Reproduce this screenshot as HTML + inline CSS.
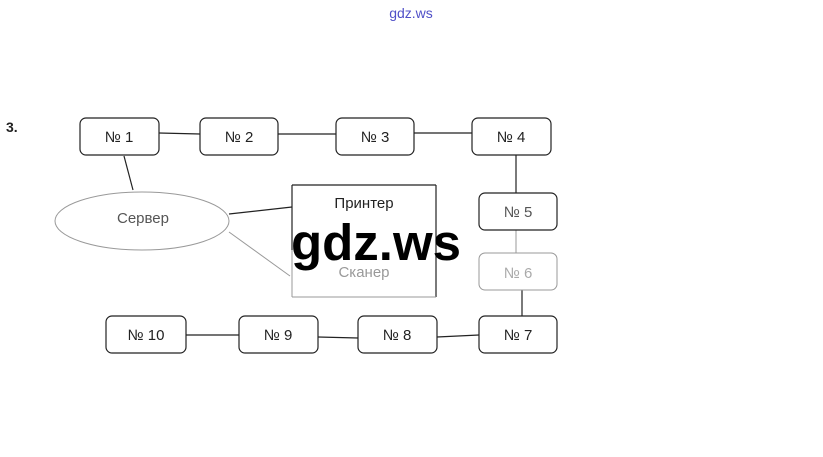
<!DOCTYPE html>
<html><head><meta charset="utf-8"><style>
html,body{margin:0;padding:0;background:#fff;width:823px;height:457px;overflow:hidden}
text{font-family:"Liberation Sans",sans-serif}
</style></head><body>
<svg width="823" height="457" xmlns="http://www.w3.org/2000/svg">
<text x="411" y="18" font-size="14" fill="#5050c8" text-anchor="middle">gdz.ws</text>
<text x="6" y="132" font-size="14" font-weight="bold" fill="#222">3.</text>
<g stroke="#222" stroke-width="1.2" fill="none">
<line x1="159" y1="133" x2="200" y2="134"/>
<line x1="278" y1="134" x2="336" y2="134"/>
<line x1="414" y1="133" x2="472" y2="133"/>
<line x1="516" y1="154" x2="516" y2="193"/>
<line x1="522" y1="290" x2="522" y2="317"/>
<line x1="186" y1="335" x2="239" y2="335"/>
<line x1="318" y1="337" x2="358" y2="338"/>
<line x1="437" y1="337" x2="479" y2="335"/>
<line x1="124" y1="156" x2="133" y2="190"/>
<line x1="229" y1="214" x2="292" y2="207"/>
<line x1="292" y1="185" x2="436" y2="185"/><line x1="436" y1="185" x2="436" y2="297"/>
<line x1="292" y1="185" x2="292" y2="250"/>
</g>
<g stroke="#999" stroke-width="1" fill="none">
<line x1="516" y1="228" x2="516" y2="253"/>
<line x1="229" y1="232" x2="290" y2="276"/>
<line x1="292" y1="250" x2="292" y2="297"/><line x1="292" y1="297" x2="436" y2="297"/>
<ellipse cx="142" cy="221" rx="87" ry="29"/>
<rect x="479" y="253" width="78" height="37" rx="6"/>
</g>
<g stroke="#222" stroke-width="1.2" fill="#fff">
<rect x="80" y="118" width="79" height="37" rx="6"/>
<rect x="200" y="118" width="78" height="37" rx="6"/>
<rect x="336" y="118" width="78" height="37" rx="6"/>
<rect x="472" y="118" width="79" height="37" rx="6"/>
<rect x="479" y="193" width="78" height="37" rx="6"/>
<rect x="106" y="316" width="80" height="37" rx="6"/>
<rect x="239" y="316" width="79" height="37" rx="6"/>
<rect x="358" y="316" width="79" height="37" rx="6"/>
<rect x="479" y="316" width="78" height="37" rx="6"/>
</g>
<g font-size="15" fill="#222" text-anchor="middle">
<text x="119" y="142">№ 1</text><text x="239" y="142">№ 2</text>
<text x="375" y="142">№ 3</text><text x="511" y="142">№ 4</text>
<text x="518" y="217" fill="#555">№ 5</text><text x="518" y="278" fill="#aaa">№ 6</text>
<text x="146" y="340">№ 10</text><text x="278" y="340">№ 9</text>
<text x="397" y="340">№ 8</text><text x="518" y="340">№ 7</text>
<text x="143" y="223" fill="#555">Сервер</text>
<text x="364" y="208">Принтер</text>
<text x="364" y="277" fill="#999">Сканер</text>
</g>
<text x="376" y="260" font-size="51" font-weight="bold" fill="#000" text-anchor="middle">gdz.ws</text>
</svg>
</body></html>
